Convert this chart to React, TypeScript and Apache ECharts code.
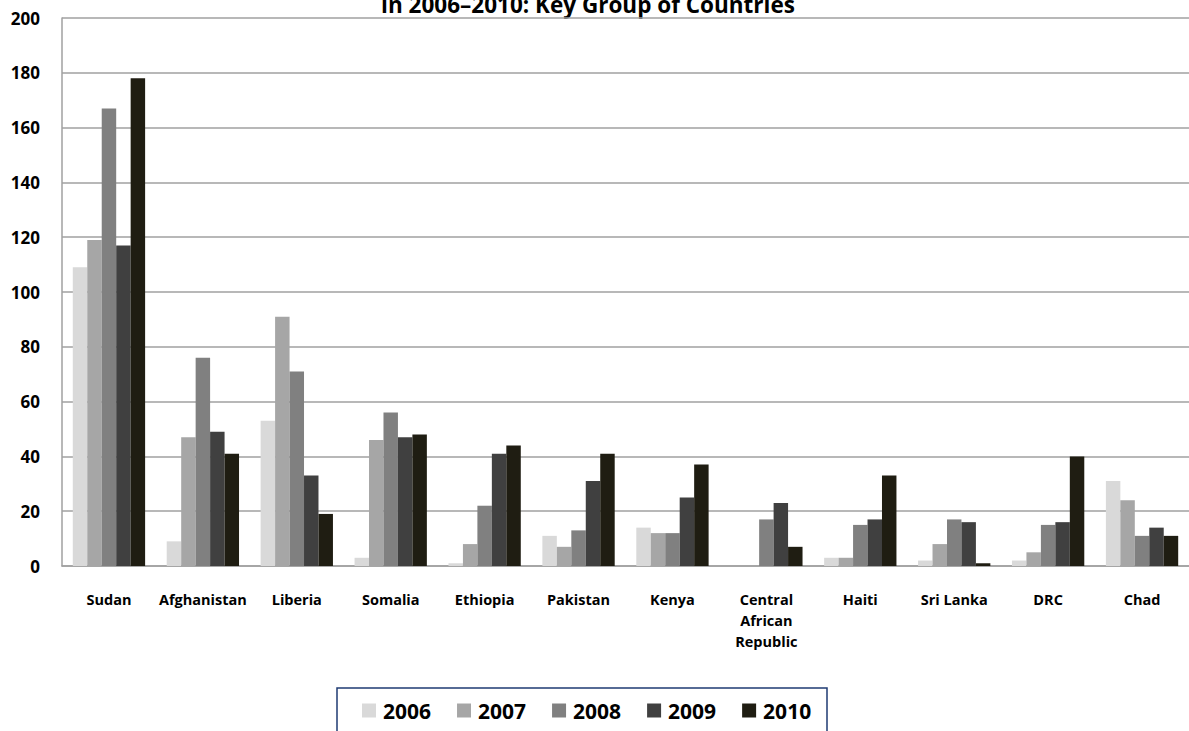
import React, { useEffect, useRef } from "react";
import * as echarts from "echarts";

// Countries on the category axis
const countries: string[] = [
  "Sudan",
  "Afghanistan",
  "Liberia",
  "Somalia",
  "Ethiopia",
  "Pakistan",
  "Kenya",
  "Central\nAfrican\nRepublic",
  "Haiti",
  "Sri Lanka",
  "DRC",
  "Chad",
];

// Yearly values per country (same order as above)
const y2006: number[] = [109, 9, 53, 3, 1, 11, 14, 0, 3, 2, 2, 31];
const y2007: number[] = [119, 47, 91, 46, 8, 7, 12, 0, 3, 8, 5, 24];
const y2008: number[] = [167, 76, 71, 56, 22, 13, 12, 17, 15, 17, 15, 11];
const y2009: number[] = [117, 49, 33, 47, 41, 31, 25, 23, 17, 16, 16, 14];
const y2010: number[] = [178, 41, 19, 48, 44, 41, 37, 7, 33, 1, 40, 11];

const years: string[] = ["2006", "2007", "2008", "2009", "2010"];
const seriesData: number[][] = [y2006, y2007, y2008, y2009, y2010];
const colors: string[] = ["#d9d9d9", "#a6a6a6", "#808080", "#404040", "#1f1d12"];

const titleText = "in 2006\u20132010: Key Group of Countries";
const FONT = "'Open Sans', 'Noto Sans', sans-serif";

export default function App() {
  const ref = useRef<HTMLDivElement>(null);

  useEffect(() => {
    if (!ref.current) return;
    const chart = echarts.init(ref.current, undefined, { renderer: "svg" });
    chart.setOption({
      animation: false,
      backgroundColor: "#ffffff",
      textStyle: { fontFamily: FONT },
      grid: { left: 62, right: 0, top: 18, bottom: 165, containLabel: false },
      legend: {
        data: years,
        left: 357,
        top: 695,
        itemWidth: 14,
        itemHeight: 14,
        itemGap: 26,
        icon: "rect",
        textStyle: {
          fontSize: 21,
          fontWeight: "bold",
          color: "#000",
          fontFamily: FONT,
          padding: [0, 0, 0, 2],
        },
      },
      xAxis: {
        type: "category",
        data: countries,
        axisLine: { show: true, lineStyle: { color: "#a0a0a0", width: 1.5 } },
        axisTick: { show: false },
        axisLabel: {
          interval: 0,
          margin: 23,
          fontSize: 14.5,
          fontWeight: "bold",
          color: "#000",
          lineHeight: 21,
          fontFamily: FONT,
        },
      },
      yAxis: {
        type: "value",
        min: 0,
        max: 200,
        interval: 20,
        axisLine: { show: true, lineStyle: { color: "#a0a0a0", width: 1.5 } },
        axisTick: { show: false },
        splitLine: { lineStyle: { color: "#a0a0a0", width: 1.5 } },
        axisLabel: {
          margin: 22,
          fontSize: 17,
          fontWeight: "bold",
          color: "#000",
          fontFamily: FONT,
        },
      },
      series: years.map((y, i) => ({
        name: y,
        type: "bar",
        data: seriesData[i],
        barGap: "0%",
        barCategoryGap: "23%",
        itemStyle: { color: colors[i] },
      })),
      graphic: [
        {
          type: "text",
          x: 588,
          y: 4,
          style: {
            text: titleText,
            font: `bold 22.5px ${FONT}`,
            fill: "#000",
            textAlign: "center",
            textVerticalAlign: "middle",
          },
        },
        {
          type: "rect",
          shape: { x: 337, y: 688, width: 490, height: 60 },
          style: { fill: "none", stroke: "#1f3b73", lineWidth: 1.5 },
        },
      ],
    });
    return () => chart.dispose();
  }, []);

  return (
    <div
      ref={ref}
      style={{ position: "fixed", left: 0, top: 0, width: 1189, height: 731, background: "#fff" }}
    />
  );
}
